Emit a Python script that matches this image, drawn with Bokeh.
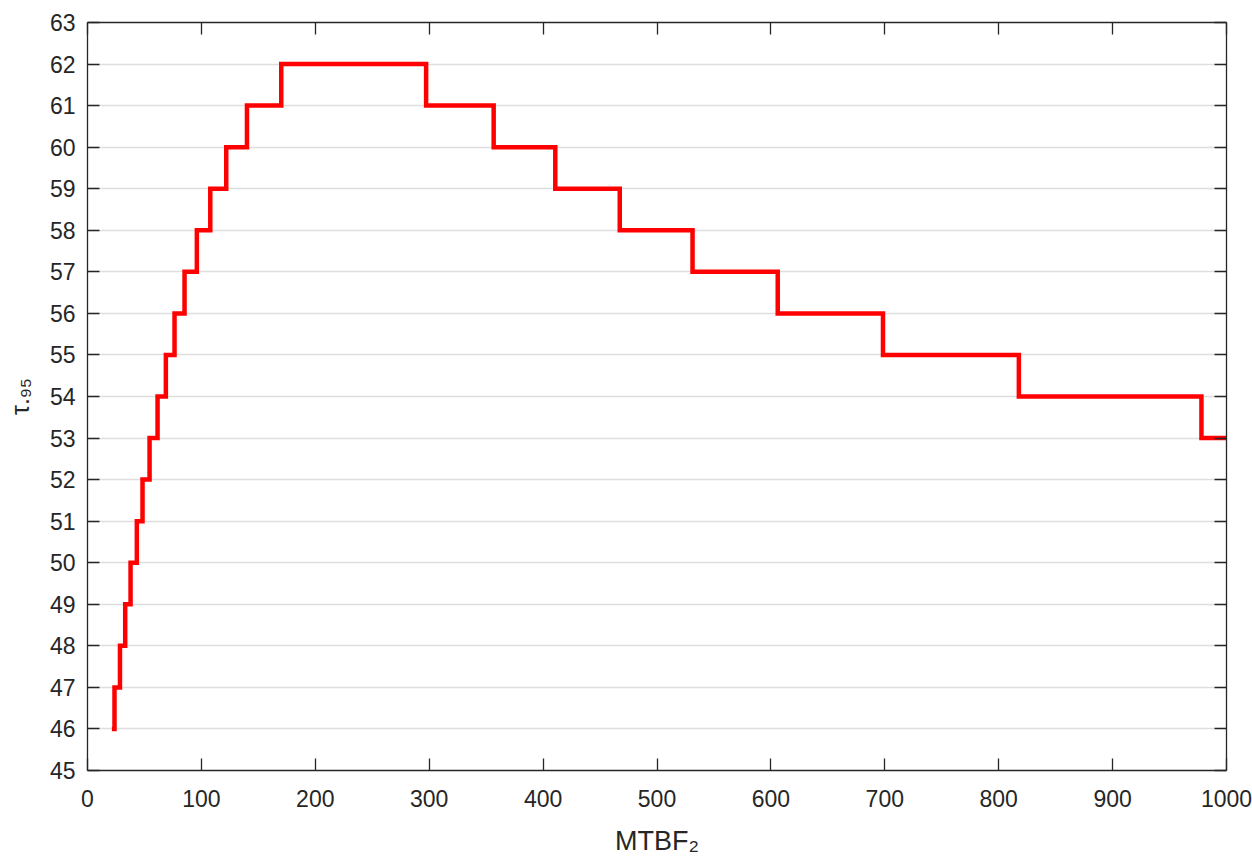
from bokeh.plotting import figure
from bokeh.models import Range1d, FixedTicker, LinearAxis
from bokeh.embed import file_html
from bokeh.resources import INLINE

# MTBF_2 value at which each tau_.95 level begins (step function)
mtbf_start = [21.4, 23.7, 28.5, 33.1, 37.8, 43.3, 48.3, 54.5, 61.5, 68.8,
              76.4, 85.2, 96.0, 107.8, 121.8, 140.0, 170.1,
              297.3, 356.6, 410.7, 467.3, 531.2, 606.0, 698.4, 817.7, 978.0]
tau_levels = [46, 47, 48, 49, 50, 51, 52, 53, 54, 55,
              56, 57, 58, 59, 60, 61, 62,
              61, 60, 59, 58, 57, 56, 55, 54, 53]
mtbf_end = 1000

x_ticks = [0, 100, 200, 300, 400, 500, 600, 700, 800, 900, 1000]
y_ticks = list(range(45, 64))

xs = mtbf_start + [mtbf_end]
ys = tau_levels + [tau_levels[-1]]

AX = "#262626"
FONT = "Liberation Sans"

p = figure(frame_width=1139, frame_height=748,
           x_range=Range1d(0, 1000), y_range=Range1d(45, 63),
           output_backend="svg", toolbar_location=None,
           min_border_left=87, min_border_right=26,
           min_border_top=22, min_border_bottom=93,
           background_fill_color="white", border_fill_color="white")
p.outline_line_color = None

bottom = p.below[0]
left = p.left[0]
bottom.ticker = FixedTicker(ticks=x_ticks)
left.ticker = FixedTicker(ticks=y_ticks)

# box axes on top / right (ticks only, no labels)
top = LinearAxis(ticker=FixedTicker(ticks=x_ticks),
                 major_label_overrides={t: "" for t in x_ticks})
right = LinearAxis(ticker=FixedTicker(ticks=y_ticks),
                   major_label_overrides={t: "" for t in y_ticks})
p.add_layout(top, "above")
p.add_layout(right, "right")

for ax in [bottom, left, top, right]:
    ax.axis_line_color = AX
    ax.axis_line_width = 1.3
    ax.major_tick_line_color = AX
    ax.major_tick_line_width = 1.3
    ax.major_tick_in = 12
    ax.major_tick_out = 0
    ax.minor_tick_line_color = None
    ax.major_label_text_color = AX
    ax.major_label_text_font = FONT
    ax.major_label_text_font_size = "23px"

for ax in [top, right]:
    ax.major_label_text_font_size = "8px"
    ax.major_label_standoff = 0

bottom.major_label_standoff = 19
left.major_label_standoff = 12

bottom.axis_label = "MTBF\u2082"
bottom.axis_label_text_font = FONT
bottom.axis_label_text_font_size = "27px"
bottom.axis_label_text_font_style = "normal"
bottom.axis_label_text_color = AX
bottom.axis_label_standoff = 16

left.axis_label = "\u03c4.\u2089\u2085"
left.axis_label_text_font = FONT
left.axis_label_text_font_size = "25px"
left.axis_label_text_font_style = "normal"
left.axis_label_text_color = AX
left.axis_label_standoff = 13

p.xgrid.grid_line_color = None
p.ygrid.ticker = FixedTicker(ticks=y_ticks)
p.ygrid.grid_line_color = "#dedede"
p.ygrid.grid_line_width = 1.4

p.step(xs, ys, mode="after", line_color="#ff0000", line_width=4.5,
       line_join="miter")

open("out.html", "w").write(file_html(p, INLINE))
